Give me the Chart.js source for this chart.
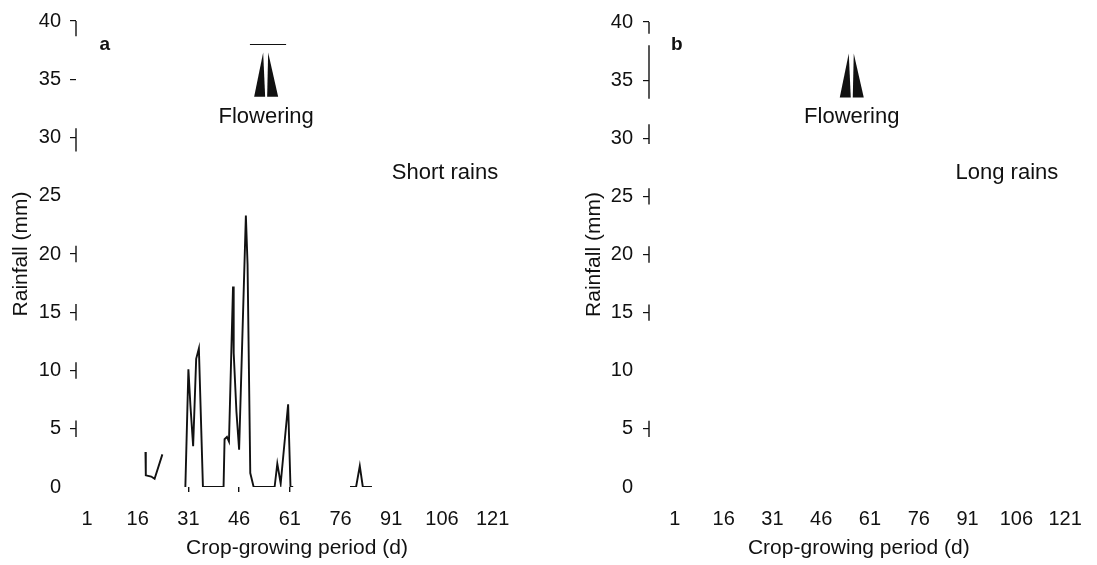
<!DOCTYPE html>
<html>
<head>
<meta charset="utf-8">
<script src="https://cdn.jsdelivr.net/npm/chart.js@4.4.1/dist/chart.umd.min.js"></script>
<style>
  html, body { margin: 0; padding: 0; background: #fff; overflow: hidden; width: 1097px; height: 565px; }
  canvas { position: absolute; top: 0; }
  #shortCanvas { left: 0; }
  #longCanvas { left: 548px; }
</style>
</head>
<body>
<canvas id="shortCanvas" width="548" height="565"></canvas>
<canvas id="longCanvas" width="549" height="565"></canvas>
<script>
// Daily rainfall (mm) against day of the crop-growing period.
// A null value breaks the trace between recorded stretches.
const shortRainDays = [18.3, 18.4, 20, 21, 23.3, 27,
  30.1, 31, 31.6, 32.4, 33.3, 34.1, 35.3,
  41.4, 41.7, 42.4, 43.0, 44.2, 44.4, 45.2, 46.0,
  48.0, 48.5, 49.3, 50.3,
  56.5, 57.3, 58.3, 60.5, 61.2, 62.0, 70,
  78.8, 80.6, 81.7, 82.6, 85.3]
const shortRainMm = [3.0, 1.0, 0.9, 0.7, 2.8, null,
  0, 10.1, 7.0, 3.5, 11.0, 11.9, 0,
  0, 4.1, 4.3, 3.9, 17.2, 11.5, 6.5, 3.2,
  23.3, 19.1, 1.2, 0,
  0, 2.0, 0.3, 7.1, 0, 0, null,
  0, 0, 1.8, 0, 0]

// nothing was traced for the long rains
const longRainDays = []
const longRainMm = []

const dayTicks = [1, 16, 31, 46, 61, 76, 91, 106, 121]
const rainTicks = [0, 5, 10, 15, 20, 25, 30, 35, 40]

const INK = "#111"
const FONT = "'Liberation Sans', Arial, Helvetica, sans-serif"
Chart.defaults.font.family = FONT
Chart.defaults.color = INK

// Leftover pieces of the y axis line, the flowering marker and the panel captions.
const panelDecor = {
  id: "panelDecor",
  afterDraw(chart, args, opts) {
    const { ctx, chartArea, scales: { x, y } } = chart
    ctx.save()
    ctx.strokeStyle = INK
    ctx.fillStyle = INK
    ctx.lineWidth = 1.4

    const ax = chartArea.left
    for (const [a, b] of opts.stubs) {
      ctx.beginPath()
      ctx.moveTo(ax, y.getPixelForValue(a))
      ctx.lineTo(ax, y.getPixelForValue(b))
      ctx.stroke()
    }

    // twin black wedges pointing up at flowering
    const f = opts.flowering
    const fx = x.getPixelForValue(f.day)
    const tip = y.getPixelForValue(f.tip)
    const base = y.getPixelForValue(f.base)
    ctx.beginPath()
    ctx.moveTo(fx - 3, tip); ctx.lineTo(fx - 12, base); ctx.lineTo(fx - 1, base); ctx.closePath()
    ctx.fill()
    ctx.beginPath()
    ctx.moveTo(fx + 2, tip); ctx.lineTo(fx + 1, base); ctx.lineTo(fx + 12, base); ctx.closePath()
    ctx.fill()
    if (f.bar) {
      ctx.lineWidth = 1
      const by = Math.round(y.getPixelForValue(f.bar[2])) + 0.5
      ctx.beginPath()
      ctx.moveTo(x.getPixelForValue(f.bar[0]), by)
      ctx.lineTo(x.getPixelForValue(f.bar[1]), by)
      ctx.stroke()
    }

    ctx.textAlign = "center"
    ctx.textBaseline = "middle"
    ctx.font = `22px ${FONT}`
    ctx.fillText("Flowering", fx, y.getPixelForValue(f.text))
    ctx.fillText(opts.season.text, x.getPixelForValue(opts.season.day), y.getPixelForValue(opts.season.mm))
    ctx.font = `bold 19px ${FONT}`
    ctx.fillText(opts.letter.text, x.getPixelForValue(opts.letter.day), y.getPixelForValue(opts.letter.mm))
    ctx.restore()
  },
}

function makePanel(canvasId, days, values, p) {
  const points = days.map((d, i) => ({ x: d, y: values[i] }))
  return new Chart(document.getElementById(canvasId), {
    type: "line",
    data: {
      datasets: [{
        data: points,
        borderColor: INK,
        borderWidth: 1.9,
        pointRadius: 0,
        tension: 0,
        spanGaps: false,
      }],
    },
    options: {
      responsive: false,
      animation: false,
      layout: { padding: { top: 20, left: 0, right: p.padRight, bottom: 0 } },
      plugins: {
        legend: { display: false },
        tooltip: { enabled: false },
        panelDecor: p.decor,
      },
      scales: {
        x: {
          type: "linear",
          min: p.xMin,
          max: p.xMax,
          afterBuildTicks: (s) => { s.ticks = dayTicks.map((v) => ({ value: v })) },
          afterFit: (s) => { s.height = 78 },
          border: { display: false },
          grid: {
            drawOnChartArea: false,
            tickLength: 5,
            lineWidth: 1.4,
            color: (c) => (p.markedDays.includes(c.tick && c.tick.value) ? INK : "rgba(0,0,0,0)"),
          },
          ticks: { padding: 15, font: { size: 20 }, color: INK },
          title: {
            display: true,
            text: "Crop-growing period (d)",
            font: { size: 21 },
            color: INK,
            padding: { top: 0, bottom: 4 },
          },
        },
        y: {
          min: 0,
          max: 40,
          afterBuildTicks: (s) => { s.ticks = rainTicks.map((v) => ({ value: v })) },
          afterFit: (s) => { s.width = p.axisWidth },
          border: { display: false },
          grid: {
            drawOnChartArea: false,
            tickLength: 6,
            lineWidth: 1.2,
            color: (c) => (p.markedRain.includes(c.tick && c.tick.value) ? INK : "rgba(0,0,0,0)"),
          },
          ticks: { padding: p.labelGap, font: { size: 20 }, color: INK },
          title: {
            display: true,
            text: "Rainfall (mm)",
            font: { size: 21 },
            color: INK,
            padding: { top: p.titleInset, bottom: 0 },
          },
        },
      },
    },
    plugins: [panelDecor],
  })
}

makePanel("shortCanvas", shortRainDays, shortRainMm, {
  xMin: -2.25, xMax: 128.5, padRight: 30, axisWidth: 76, titleInset: 9, labelGap: 9,
  markedDays: [31, 46, 61],
  markedRain: [5, 10, 15, 20, 30, 35, 40],
  decor: {
    stubs: [[38.7, 40], [28.8, 30.8], [19.3, 20.7], [14.3, 15.7], [9.3, 10.7], [4.3, 5.7]],
    flowering: { day: 54.0, tip: 37.3, base: 33.5, text: 31.8, bar: [49.2, 59.9, 38.0] },
    season: { text: "Short rains", day: 106.9, mm: 27.0 },
    letter: { text: "a", day: 6.3, mm: 38.0 },
  },
})

makePanel("longCanvas", longRainDays, longRainMm, {
  xMin: -6.95, xMax: 122.1, padRight: 26, axisWidth: 101, titleInset: 34, labelGap: 10,
  markedDays: [],
  markedRain: [5, 15, 20, 25, 30, 35, 40],
  decor: {
    stubs: [[39.0, 40], [33.4, 38.0], [29.5, 31.2], [24.3, 25.7], [19.3, 20.7], [14.3, 15.7], [4.3, 5.7]],
    flowering: { day: 55.4, tip: 37.3, base: 33.5, text: 31.8 },
    season: { text: "Long rains", day: 103.1, mm: 27.0 },
    letter: { text: "b", day: 1.6, mm: 38.0 },
  },
})
</script>
</body>
</html>
